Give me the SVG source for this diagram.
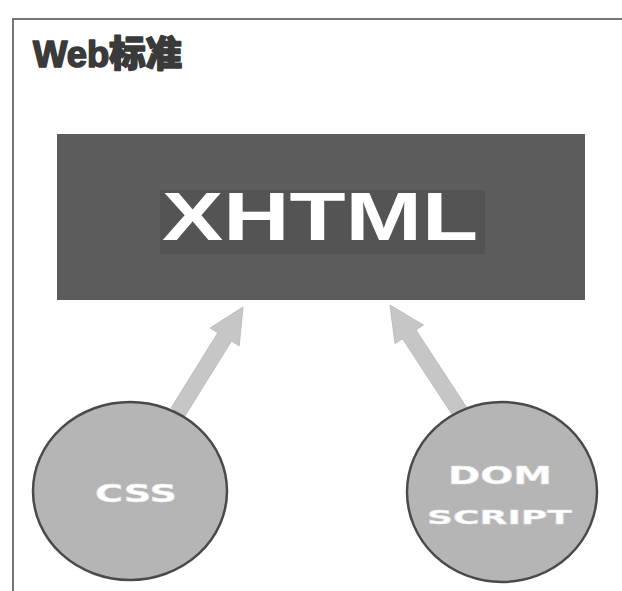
<svg xmlns="http://www.w3.org/2000/svg" width="622" height="591" viewBox="0 0 622 591">
<style>
.title{font-family:"Liberation Sans","Noto Sans CJK SC",sans-serif;font-weight:900;font-size:36px;fill:#3a3a3a;stroke:#3a3a3a;stroke-width:1.6;stroke-linejoin:round}
.main{font-family:"Liberation Sans",sans-serif;font-weight:bold;font-size:68px;fill:#ffffff}
.lbl{font-family:"DejaVu Sans",sans-serif;font-weight:bold;fill:#ffffff;stroke:#e8e8e8;stroke-width:0.5}
.circ{fill:#b5b5b5;stroke:#4a4a4a;stroke-width:2.5}
.arrow{fill:#c6c6c6;stroke:#bdbdbd;stroke-width:1}
</style>
<rect x="0" y="0" width="622" height="591" fill="#ffffff"/>
<path d="M13 591 V19 H622" fill="none" stroke="#777" stroke-width="2"/>
<text class="title" x="33" y="67" textLength="149" lengthAdjust="spacingAndGlyphs">Web标准</text>
<g id="connectors">
<polygon class="arrow" points="184.8,416.2 231.5,341.1 239.2,345.8 243,307 210.2,328.0 217.9,332.7 171.2,407.8"/>
<polygon class="arrow" points="468.7,410.6 415.9,329.9 423.4,325.0 390,305 395.0,343.6 402.5,338.7 455.3,419.4"/>
</g>
<g id="xhtml">
<rect x="57" y="134" width="528" height="166" fill="#5c5c5c"/>
<rect x="160" y="190" width="325" height="64" fill="#545454"/>
<text class="main" x="162" y="240" textLength="316" lengthAdjust="spacingAndGlyphs">XHTML</text>
</g>
<g id="css">
<ellipse class="circ" cx="130" cy="491" rx="97" ry="89"/>
<text class="lbl" x="95" y="502" font-size="24" textLength="82" lengthAdjust="spacingAndGlyphs">CSS</text>
</g>
<g id="dom">
<ellipse class="circ" cx="502" cy="492" rx="95" ry="90"/>
<text class="lbl" x="448" y="484" font-size="24" textLength="104" lengthAdjust="spacingAndGlyphs">DOM</text>
<text class="lbl" x="427" y="524" font-size="20" textLength="145" lengthAdjust="spacingAndGlyphs">SCRIPT</text>
</g>
</svg>
